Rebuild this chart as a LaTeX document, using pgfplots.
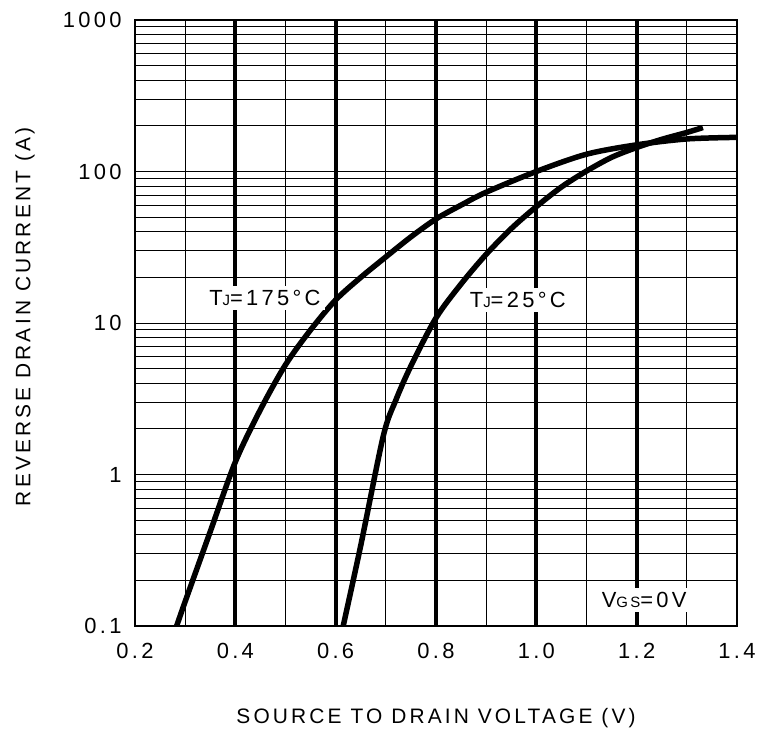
\documentclass[border=0pt]{standalone}
\usepackage{pgfplots}
\pgfplotsset{compat=1.18}
\usepackage{fontspec}
\setmainfont{Liberation Sans}[LetterSpace=15]
\begin{document}
\begin{tikzpicture}
\path[use as bounding box] (-135bp,-114bp) rectangle (628bp,626bp);
\begin{axis}[
  scale only axis,
  width=602bp, height=606bp,
  xmin=0.2, xmax=1.4,
  ymode=log, ymin=0.1, ymax=1000,
  xtick={0.2,0.4,0.6,0.8,1.0,1.2,1.4},
  xticklabels={0.2,0.4,0.6,0.8,1.0,1.2,1.4},
  minor xtick={0.3,0.5,0.7,0.9,1.1,1.3},
  ytick={0.1,1,10,100,1000},
  yticklabels={0.1,1,10,100,1000},
  minor ytick={0.2,0.3,0.4,0.5,0.6,0.7,0.8,0.9,2,3,4,5,6,7,8,9,20,30,40,50,60,70,80,90,200,300,400,500,600,700,800,900},
  grid=both,
  major grid style={line width=0.9bp, black},
  minor grid style={line width=0.9bp, black},
  extra x ticks={0.4,0.6,0.8,1.0,1.2},
  extra x tick labels={},
  extra x tick style={grid=major, major grid style={line width=4bp, black}, major tick length=0pt},
  major tick length=0pt, minor tick length=0pt,
  axis line style={line width=1.2bp},
  tick label style={font=\fontsize{22}{22}\selectfont},
  /pgf/number format/assume math mode=true,
  xticklabel style={yshift=-14bp},
  yticklabel style={xshift=-10bp},
  xlabel={SOURCE TO DRAIN VOLTAGE (V)},
  ylabel={REVERSE DRAIN CURRENT (A)},
  label style={font=\fontsize{21}{21}\selectfont},
  xlabel style={at={(rel axis cs:0.5,0)}, anchor=center, yshift=-92bp},
  ylabel style={at={(rel axis cs:0,0.51)}, anchor=center, yshift=110bp},
  clip=false,
]
\addplot[line width=5.5bp, smooth, tension=0.5] coordinates {
(0.283,0.1) (0.30,0.145) (0.35,0.42) (0.40,1.21) (0.45,2.68) (0.50,5.3)
(0.55,9.0) (0.60,14.2) (0.65,20) (0.70,27.3) (0.75,37) (0.80,48.6) (0.85,60) (0.90,73)
(1.00,100) (1.10,130) (1.20,150) (1.30,164) (1.40,168)};
\addplot[line width=5.5bp, smooth, tension=0.5] coordinates {
(0.615,0.1) (0.65,0.34) (0.695,1.8) (0.72,3.1) (0.75,5.2) (0.80,10.8)
(0.85,18.1) (0.90,28.4) (0.95,42) (1.00,58.6) (1.05,79) (1.10,100.7) (1.15,124)
(1.20,144) (1.25,163) (1.30,181) (1.332,195)};
\node[fill=white, inner sep=4bp, font=\fontsize{22}{22}\selectfont] at (axis cs:0.459,14.6) {T{\fontsize{15}{15}\selectfont J}=175°C};
\node[fill=white, inner sep=4bp, font=\fontsize{22}{22}\selectfont] at (axis cs:0.963,14.2) {T{\fontsize{15}{15}\selectfont J}=25°C};
\node[fill=white, inner sep=4bp, font=\fontsize{22}{22}\selectfont] at (axis cs:1.215,0.1486) {V{\fontsize{15}{15}\selectfont GS}=0V};
\end{axis}
\end{tikzpicture}
\end{document}
